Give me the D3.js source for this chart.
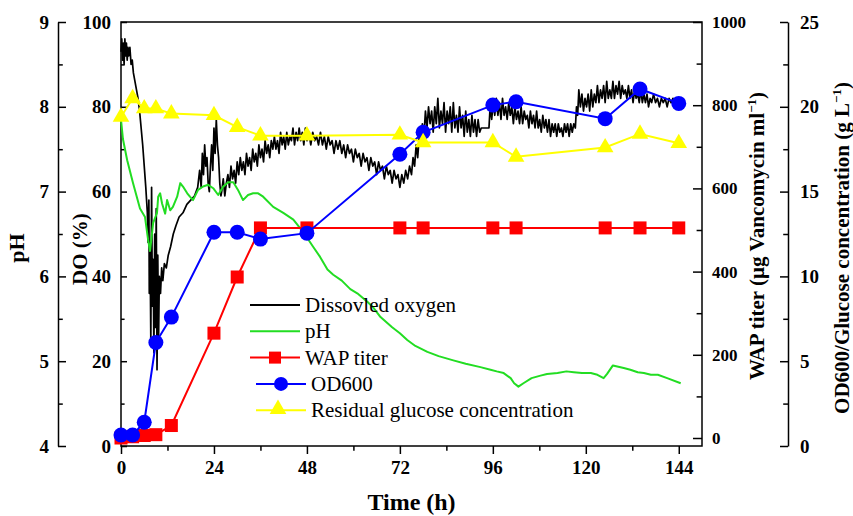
<!DOCTYPE html>
<html>
<head>
<meta charset="utf-8">
<script src="https://cdn.jsdelivr.net/npm/d3@7"></script>
<style>
  body { margin: 0; background: #fff; }
  svg, svg text { font-family: "Liberation Serif", "Times New Roman", serif; }
  .tick text { font-weight: bold; font-size: 19px; fill: #000; }
  .axis path, .axis line { stroke: #000; stroke-width: 1.5px; }
</style>
</head>
<body>
<div id="chart"></div>
<script>
// sampling times (h) for the offline measurements
var sampleTime = [0, 3, 6, 9, 13, 24, 30, 36, 48, 72, 78, 96, 102, 125, 134, 144];
var wapTiter   = [0, 3, 6, 8, 30, 252, 387, 505, 505, 505, 505, 505, 505, 505, 505, 505];
var od600      = [0.65, 0.65, 1.4, 6.1, 7.6, 12.6, 12.6, 12.2, 12.55, 17.2, 18.5, 20.1, 20.3, 19.3, 21.05, 20.2];
var glucose    = [19.4, 20.5, 19.9, 19.9, 19.6, 19.5, 18.8, 18.3, 18.3, 18.35, 17.9, 17.9, 17.05, 17.6, 18.4, 17.85];

// online probes: [time h, value]
var dissolvedOxygen = [
  [0,93],[0.2,96],[0.4,91],[0.6,95],[0.8,90],[1.0,96],[1.2,92],[1.4,95],[1.6,91],[1.8,94],[2.0,92],[2.3,94],
  [2.6,90],[2.9,91],[3.2,88],[3.6,86],[4.0,84],[4.4,82],[4.8,79],[5.2,75],[5.6,71],[6.0,66],[6.4,61],[6.8,55],
  [7.0,48],[7.2,58],[7.3,36],[7.5,47],[7.7,25],[7.9,61],[8.1,33],[8.3,44],[8.5,22],[8.7,50],[8.9,28],[9.1,56],
  [9.3,18],[9.5,45],[9.7,25],[9.9,40],[10.2,36],[10.5,42],[10.8,39],[11.2,43],[11.7,42],[12.2,45],[12.8,47],
  [13.5,50],[14.2,52],[15,54],[16,55],[17,57],[18,58],[19,59],[19.8,61],[20.3,65],[20.7,61],[21.0,69],[21.3,64],
  [21.6,71],[21.9,66],[22.2,68],[22.5,62],[22.8,60],[23.1,66],[23.4,71],[23.7,65],[24.0,75],[24.3,69],[24.6,77],
  [24.9,71],[25.2,68],[25.5,62],[25.8,59],
  [26.0,60],[26.4,63],[26.8,59],[27.2,62],[27.6,64],[28.0,61],[28.4,66],[28.8,63],[29.2,65],[29.6,62],[30.0,67],
  [30.4,64],[30.8,68],[31.2,65],[31.6,67],[32.0,64],[32.4,69],[32.8,66],[33.2,68],[33.6,65],[34.0,70],[34.4,67],
  [34.8,69],[35.2,66],[35.6,71],[36.0,68],[36.4,70],[36.8,67],[37.2,72],[37.6,69],[38.0,71],[38.4,68],[38.8,72],
  [39.2,70],[39.6,73],[40.0,70],[40.4,72],[40.8,69],[41.2,74],[41.6,71],[42.0,73],[42.4,70],[42.8,74],[43.2,71],
  [43.6,73],[44.0,72],[44.4,75],[44.8,71],[45.2,74],[45.6,72],[46.0,75],[46.4,72],[46.8,74],[47.2,71],[47.6,75],
  [48.0,72],[48.5,74],[49.0,71],[49.5,74],[50.0,72],[50.5,73],[51.0,71],[51.5,74],[52.0,71],[52.5,73],[53.0,70],
  [53.5,73],[54.0,71],[54.5,72],[55.0,69],[55.5,72],[56.0,70],[56.5,72],[57.0,69],[57.5,71],[58.0,68],[58.5,71],
  [59.0,69],[59.5,70],[60.0,67],[60.5,70],[61.0,68],[61.5,69],[62.0,66],[62.5,69],[63.0,67],[63.5,68],[64.0,65],
  [64.5,68],[65.0,66],[65.5,67],[66.0,64],[66.5,67],[67.0,65],[67.5,66],[68.0,63],[68.5,66],[69.0,64],[69.5,65],
  [70.0,62],[70.5,65],[71.0,63],[71.5,64],[72.0,61],[72.5,64],[73.0,62],[73.5,65],[74.0,63],[74.5,66],[75.0,64],
  [75.4,68],[75.8,66],[76.2,71],[76.6,68],[77.0,73],[77.4,71],[77.8,76],[78.2,73],[78.6,79],[79.0,75],[79.4,80],
  [79.8,76],[80.2,79],[80.6,74],[81.0,80],[81.4,76],[81.8,82],[82.2,75],[82.6,79],[83.0,76],[83.4,81],[83.8,74],
  [84.2,79],[84.6,76],[85.0,80],[85.4,74],[85.8,81],[86.2,75],[86.6,78],[87.0,74],[87.4,80],[87.8,75],[88.2,78],
  [88.6,73],[89.0,79],[89.4,74],[89.8,77],[90.2,73],[90.6,78],[91.0,74],[91.4,77],[91.8,73],[92.2,77],[92.6,74],
  [93.0,75],[94.0,75],[95.0,75],[95.3,80],[95.7,77],[96.1,81],[96.5,78],[96.9,82],[97.3,78],[97.7,81],[98.1,77],
  [98.5,82],[98.9,78],[99.3,80],[99.7,77],[100.1,81],[100.5,78],[100.9,80],[101.3,76],[101.7,80],[102.1,77],
  [102.5,79],[102.9,76],[103.3,80],[103.7,76],[104.1,79],[104.5,77],[104.9,78],[105.3,75],[105.7,79],[106.1,76],
  [106.5,78],[106.9,75],[107.3,79],[107.7,75],[108.1,77],[108.5,74],[108.9,78],[109.3,75],[109.7,77],[110.1,74],
  [110.5,77],[110.9,73],[111.3,76],[111.7,74],[112.1,76],[112.5,73],[112.9,76],[113.3,74],[113.7,75],[114.1,73],
  [114.5,76],[114.9,74],[115.3,76],[115.7,73],[116.1,76],[116.5,74],[116.9,76],[117.3,75],[117.6,80],[117.9,78],
  [118.2,84],[118.6,80],[119.0,83],[119.4,79],[119.8,82],[120.2,80],[120.6,83],[121.0,79],[121.4,84],[121.8,80],
  [122.2,83],[122.6,81],[123.0,85],[123.4,81],[123.8,84],[124.2,82],[124.6,85],[125.0,81],[125.4,86],[125.8,82],
  [126.2,84],[126.6,82],[127.0,86],[127.4,82],[127.8,85],[128.2,83],[128.6,86],[129.0,82],[129.4,85],[129.8,83],
  [130.2,84],[130.6,82],[131.0,85],[131.4,82],[131.8,84],[132.2,81],[132.6,84],[133.0,82],[133.4,83],[133.8,81],
  [134.2,84],[134.6,81],[135.0,83],[135.4,81],[135.8,83],[136.2,80],[136.6,82],[137.0,81],[137.5,83],[138.0,81],
  [138.5,82],[139.0,80],[139.5,82],[140.0,81],[140.5,82],[141.0,80],[141.5,82],[142.0,81],[142.5,82],[143.0,81],
  [143.5,82],[144.0,81],[144.5,82]
];
var pH = [
  [0,7.85],[0.5,7.62],[1.6,7.37],[3.1,7.1],[4.9,6.8],[6.2,6.7],[7.0,6.43],[7.5,6.3],[8.3,6.63],[9.3,6.75],
  [9.6,6.94],[10.1,6.98],[10.6,6.86],[11.4,6.74],[11.9,6.9],[12.7,6.78],[13.4,6.82],[14.5,6.94],[15.3,7.1],
  [16.0,7.06],[17.1,6.98],[17.8,6.94],[18.6,6.9],[19.9,7.02],[21.2,7.06],[22.5,7.08],[23.8,7.04],[25.1,6.96],
  [26.4,7.06],[27.7,7.11],[29.0,7.11],[30.2,7.02],[31.5,6.9],[32.8,6.96],[34.1,6.98],[35.4,6.98],[36.7,6.94],
  [39.3,6.82],[41.9,6.75],[44.5,6.67],[47.1,6.52],[49.6,6.35],[51.4,6.23],[53.3,6.08],[54.8,6.02],[57,5.95],
  [59.2,5.85],[61,5.8],[63.6,5.7],[65,5.64],[67.0,5.52],[70,5.4],[72,5.33],[73.9,5.25],[76,5.18],[79.1,5.11],
  [82,5.06],[85.8,5.01],[89,4.97],[92.8,4.93],[95.4,4.9],[97,4.88],[98.8,4.86],[100.6,4.8],[101.5,4.74],
  [102.6,4.7],[103.9,4.74],[106,4.8],[108.3,4.83],[110,4.85],[112.7,4.86],[115,4.88],[116.9,4.87],[119,4.86],
  [121.3,4.86],[123,4.84],[124.6,4.8],[125.5,4.85],[127.0,4.95],[129.8,4.92],[131.5,4.9],[133.4,4.87],
  [135,4.86],[136.8,4.84],[138.6,4.84],[141,4.8],[144.5,4.74]
];

var xTicks = [0, 24, 48, 72, 96, 120, 144];
var legendNames = ["Dissovled oxygen", "pH", "WAP titer", "OD600", "Residual glucose concentration"];

var width = 853, height = 516,
    plotL = 121, plotR = 702, plotT = 22, plotB = 446,
    serif = "'Liberation Serif', 'Times New Roman', serif";

var svg = d3.select("#chart").append("svg")
    .attr("width", width)
    .attr("height", height)
    .attr("font-family", serif);

var x = d3.scaleLinear().domain([0, 150]).range([plotL, plotR]),
    yDO = d3.scaleLinear().domain([0, 100]).range([plotB, plotT]),
    yPH = d3.scaleLinear().domain([4, 9]).range([plotB, plotT]),
    yWAP = d3.scaleLinear().domain([0, 1000]).range([438, plotT]),
    yOD = d3.scaleLinear().domain([0, 25]).range([plotB, plotT]);

// minor + major ticks helper
function drawAxis(axisFn, scale, major, minor, pos, inner, pad, fmt) {
  var g = svg.append("g").attr("class", "axis").attr("transform", pos);
  g.call(axisFn(scale).tickValues(minor).tickSizeInner(inner * 0.6).tickSizeOuter(0).tickFormat(""));
  g.selectAll(".domain").remove();
  var g2 = svg.append("g").attr("class", "axis").attr("transform", pos);
  g2.call(axisFn(scale).tickValues(major).tickSizeInner(inner).tickSizeOuter(0).tickPadding(pad).tickFormat(fmt || d3.format("d")));
  g2.attr("font-family", serif).attr("font-size", null);
  g2.selectAll(".tick text").attr("font-family", serif);
  return g2;
}

// frame
svg.append("rect")
    .attr("x", plotL).attr("y", plotT)
    .attr("width", plotR - plotL).attr("height", plotB - plotT)
    .attr("fill", "none").attr("stroke", "#000").attr("stroke-width", 1.5);

// x axis (ticks outward)
var gx = drawAxis(d3.axisBottom, x, xTicks, d3.range(12, 145, 24), "translate(0," + plotB + ")", 8, 7);
gx.selectAll(".domain").remove();

// DO axis (ticks inward)
var gdo = drawAxis(d3.axisLeft, yDO, d3.range(0, 101, 20), d3.range(10, 100, 20), "translate(" + plotL + ",0)", -6, 10);
gdo.selectAll(".domain").remove();

// pH axis
drawAxis(d3.axisLeft, yPH, d3.range(4, 10, 1), d3.range(4.5, 9, 1), "translate(58,0)", -8, 9);

// WAP axis on the frame
var gw = drawAxis(d3.axisRight, yWAP, d3.range(0, 1001, 200), d3.range(100, 1000, 200), "translate(" + plotR + ",0)", -9, 10);
gw.selectAll(".domain").remove();
gw.selectAll(".tick text").style("font-size", "17px");

// OD / glucose axis
drawAxis(d3.axisRight, yOD, d3.range(0, 26, 5), d3.range(2.5, 25, 5), "translate(788,0)", -8, 12);

// axis titles
svg.append("text")
    .attr("x", plotL + (plotR - plotL) / 2).attr("y", 510)
    .attr("text-anchor", "middle")
    .style("font-weight", "bold").style("font-size", "24px")
    .text("Time (h)");

svg.append("text")
    .attr("transform", "translate(24,248) rotate(-90)")
    .attr("text-anchor", "middle")
    .style("font-weight", "bold").style("font-size", "22px")
    .text("pH");

svg.append("text")
    .attr("transform", "translate(87,249) rotate(-90)")
    .attr("text-anchor", "middle")
    .style("font-weight", "bold").style("font-size", "21px")
    .text("DO (%)");

var wt = svg.append("text")
    .attr("transform", "translate(764,236) rotate(-90)")
    .attr("text-anchor", "middle")
    .style("font-weight", "bold").style("font-size", "21px");
wt.append("tspan").text("WAP titer (\u00b5g Vancomycin ml");
wt.append("tspan").attr("dy", -8).style("font-size", "13px").text("\u22121");
wt.append("tspan").attr("dy", 8).text(")");

var ot = svg.append("text")
    .attr("transform", "translate(849,248) rotate(-90)")
    .attr("text-anchor", "middle")
    .style("font-weight", "bold").style("font-size", "21px");
ot.append("tspan").text("OD600/Glucose concentration (g L");
ot.append("tspan").attr("dy", -8).style("font-size", "13px").text("\u22121");
ot.append("tspan").attr("dy", 8).text(")");

// series
var doLine = d3.line().x(function(d) { return x(d[0]); }).y(function(d) { return yDO(d[1]); });
var phLine = d3.line().x(function(d) { return x(d[0]); }).y(function(d) { return yPH(d[1]); });

svg.append("path").datum(dissolvedOxygen)
    .attr("d", doLine).attr("fill", "none")
    .attr("stroke", "#000").attr("stroke-width", 1.7).attr("stroke-linejoin", "round");

svg.append("path").datum(pH)
    .attr("d", phLine).attr("fill", "none")
    .attr("stroke", "#22dd22").attr("stroke-width", 2).attr("stroke-linejoin", "round");

function sampleSeries(values, yScale, color) {
  var pts = sampleTime.map(function(t, i) { return [t, values[i]]; });
  svg.append("path").datum(pts)
    .attr("d", d3.line().x(function(d) { return x(d[0]); }).y(function(d) { return yScale(d[1]); }))
    .attr("fill", "none").attr("stroke", color).attr("stroke-width", 2);
  return pts;
}

var wapPts = sampleSeries(wapTiter, yWAP, "#ff0000");
svg.selectAll(".wap").data(wapPts).enter().append("rect")
    .attr("x", function(d) { return x(d[0]) - 6.5; })
    .attr("y", function(d) { return yWAP(d[1]) - 6.5; })
    .attr("width", 13).attr("height", 13).attr("fill", "#ff0000");

var odPts = sampleSeries(od600, yOD, "#0000ff");
svg.selectAll(".od").data(odPts).enter().append("circle")
    .attr("cx", function(d) { return x(d[0]); })
    .attr("cy", function(d) { return yOD(d[1]); })
    .attr("r", 7.5).attr("fill", "#0000ff");

var gluPts = sampleSeries(glucose, yOD, "#ffff00");
var tri = d3.symbol().type(d3.symbolTriangle).size(120);
svg.selectAll(".glu").data(gluPts).enter().append("path")
    .attr("d", tri)
    .attr("transform", function(d) { return "translate(" + x(d[0]) + "," + yOD(d[1]) + ")"; })
    .attr("fill", "#ffff00");

// legend
var legendColors = ["#000", "#22dd22", "#ff0000", "#0000ff", "#ffff00"];
var leg = svg.selectAll(".legend").data(legendNames).enter().append("g")
    .attr("transform", function(d, i) { return "translate(" + (i > 2 ? 256 : 250) + "," + (305 + i * 26.3) + ")"; });

leg.append("line")
    .attr("x1", 0).attr("x2", 50).attr("y1", 0).attr("y2", 0)
    .attr("stroke", function(d, i) { return legendColors[i]; })
    .attr("stroke-width", 2);

leg.each(function(d, i) {
  var g = d3.select(this);
  if (i == 2) g.append("rect").attr("x", 19).attr("y", -6).attr("width", 12).attr("height", 12).attr("fill", legendColors[i]);
  if (i == 3) g.append("circle").attr("cx", 25).attr("r", 7).attr("fill", legendColors[i]);
  if (i == 4) g.append("path").attr("d", tri).attr("transform", "translate(22,-1)").attr("fill", legendColors[i]);
});

leg.append("text")
    .attr("x", 55).attr("y", 0).attr("dy", "0.33em")
    .style("font-size", "21px")
    .text(function(d) { return d; });
</script>
</body>
</html>
